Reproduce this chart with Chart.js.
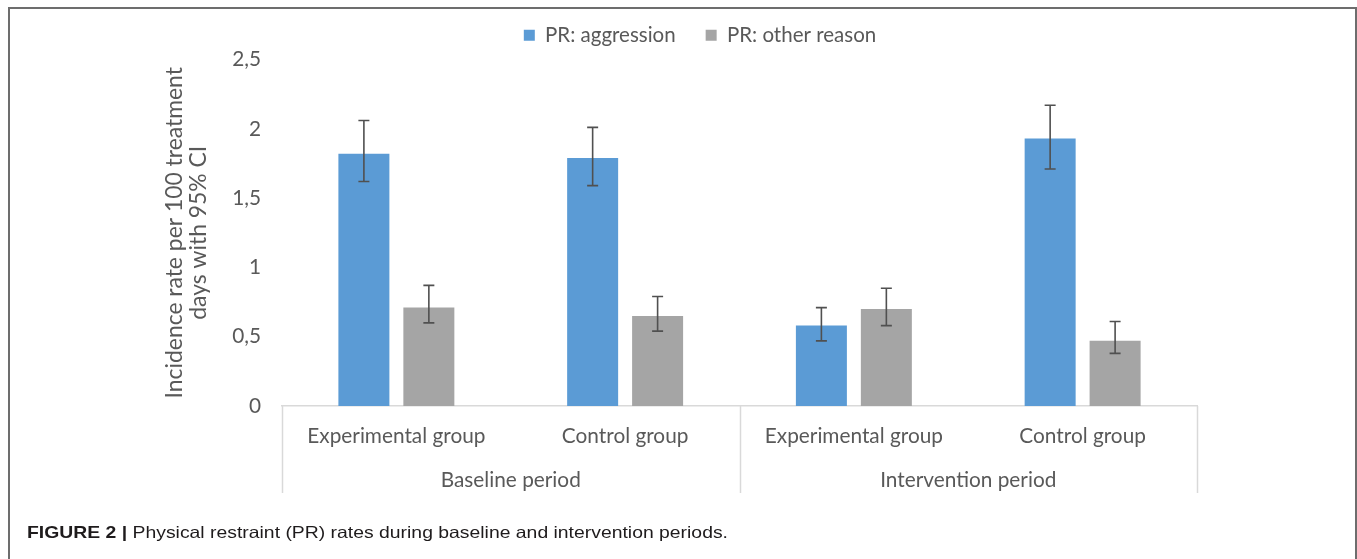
<!DOCTYPE html>
<html>
<head>
<meta charset="utf-8">
<script src="https://cdn.jsdelivr.net/npm/chart.js@4.4.1/dist/chart.umd.min.js"></script>
<style>
  html, body { margin: 0; padding: 0; background: #ffffff; }
  #wrap { position: relative; width: 1357px; height: 559px; overflow: hidden; background: #ffffff; }
  #frame { position: absolute; left: 8px; top: 7px; width: 1349px; height: 620px; border: 2px solid #6d6d6d; box-sizing: border-box; }
  #chartBox { position: absolute; left: 0; top: 0; width: 1357px; height: 559px; }
  #caption { position: absolute; left: 27px; top: 524px; font-family: "Liberation Sans", Arial, sans-serif; font-size: 16.5px; line-height: 16.5px; color: #1e1b1c; white-space: nowrap; transform-origin: 0 0; }
  #caption b { font-weight: bold; }
</style>
</head>
<body>
<div id="wrap">
  <div id="frame"></div>
  <div id="chartBox"><canvas id="chart"></canvas></div>
  <div id="caption"><b>FIGURE 2 |</b> Physical restraint (PR) rates during baseline and intervention periods.</div>
</div>
<script>
// Incidence rates per 100 treatment days, with 95% confidence limits
const categories = ['Experimental group', 'Control group', 'Experimental group', 'Control group'];
const periods = ['Baseline period', 'Intervention period'];
const seriesNames = ['PR: aggression', 'PR: other reason'];

const aggression      = [1.82, 1.79, 0.58, 1.93];
const aggressionLower = [1.62, 1.59, 0.47, 1.71];
const aggressionUpper = [2.06, 2.01, 0.71, 2.17];

const otherReason      = [0.71, 0.65, 0.70, 0.47];
const otherReasonLower = [0.60, 0.54, 0.58, 0.38];
const otherReasonUpper = [0.87, 0.79, 0.85, 0.61];

const yTickValues = [0, 0.5, 1, 1.5, 2, 2.5];
const yTitle = ['Incidence rate per 100 treatment', 'days with 95% CI'];

// Font sizing: pick sizes of a humanist face so labels keep the intended widths
const FAMILY = 'Lato, "Open Sans", sans-serif';
const measureCtx = document.createElement('canvas').getContext('2d');
function fitSize(text, target, weight) {
  measureCtx.font = (weight || 'normal') + ' 100px ' + FAMILY;
  return Math.round(1000 * target / measureCtx.measureText(text).width) / 10;
}
const tickSize   = fitSize('Experimental group', 178);
const periodSize = fitSize('Intervention period', 176);
const legendSize = fitSize('PR: other reason', 149);
const titleSize  = fitSize('Incidence rate per 100 treatment', 332);
const TEXT = '#595959';

const PAD_LEFT = 163, PAD_RIGHT = 160, PAD_TOP = -5, PAD_BOTTOM = 66;
const PLOT_LEFT = 282;
const LEGEND_GAP = 30;      // space between legend entries
const LEGEND_EXTRA = 4;     // extra room under the legend row
const LEGEND_SHIFT = 20;    // horizontal offset of the legend row

// Confidence-interval whiskers on every bar
const errorBars = {
  id: 'errorBars',
  afterDatasetsDraw(chart) {
    const { ctx } = chart;
    const y = chart.scales.y;
    ctx.save();
    ctx.strokeStyle = '#505050';
    ctx.lineWidth = 1.6;
    chart.data.datasets.forEach((ds, i) => {
      const meta = chart.getDatasetMeta(i);
      meta.data.forEach((bar, j) => {
        const x = bar.x;
        const yl = y.getPixelForValue(ds.lower[j]);
        const yu = y.getPixelForValue(ds.upper[j]);
        ctx.beginPath();
        ctx.moveTo(x, yl); ctx.lineTo(x, yu);
        ctx.moveTo(x - 5.5, yl); ctx.lineTo(x + 5.5, yl);
        ctx.moveTo(x - 5.5, yu); ctx.lineTo(x + 5.5, yu);
        ctx.stroke();
      });
    });
    ctx.restore();
  }
};

// Vertical dividers framing each period on the two-level category axis
const periodDividers = {
  id: 'periodDividers',
  afterDraw(chart) {
    const { ctx } = chart;
    const x = chart.scales.x, x2 = chart.scales.x2;
    const n = periods.length;
    ctx.save();
    ctx.strokeStyle = '#d9d9d9';
    ctx.lineWidth = 1.5;
    for (let i = 0; i <= n; i++) {
      const px = Math.round(x2.left + i * x2.width / n) + 0.5;
      ctx.beginPath();
      ctx.moveTo(px, x.top);
      ctx.lineTo(px, x2.bottom);
      ctx.stroke();
    }
    ctx.restore();
  }
};

// Legend row: a little more room below it, and centred on the figure
const legendPlacement = {
  id: 'legendPlacement',
  beforeLayout(chart) {
    const lg = chart.legend;
    if (!lg || lg._roomAdded) return;
    const fit = lg.fit;
    lg.fit = function () {
      fit.call(this);
      this.height += LEGEND_EXTRA;
    };
    lg._roomAdded = true;
  },
  afterLayout(chart) {
    const lg = chart.legend;
    if (!lg) return;
    lg.left += LEGEND_SHIFT;
    lg.right += LEGEND_SHIFT;
  }
};

new Chart(document.getElementById('chart'), {
  type: 'bar',
  data: {
    labels: categories,
    datasets: [
      {
        label: seriesNames[0],
        data: aggression,
        lower: aggressionLower,
        upper: aggressionUpper,
        backgroundColor: '#5b9bd5',
        borderWidth: 0
      },
      {
        label: seriesNames[1],
        data: otherReason,
        lower: otherReasonLower,
        upper: otherReasonUpper,
        backgroundColor: '#a5a5a5',
        borderWidth: 0
      }
    ]
  },
  options: {
    responsive: true,
    maintainAspectRatio: false,
    animation: false,
    categoryPercentage: 0.568,
    barPercentage: 0.785,
    layout: { padding: { left: PAD_LEFT, right: PAD_RIGHT, top: PAD_TOP, bottom: PAD_BOTTOM } },
    plugins: {
      tooltip: { enabled: false },
      legend: {
        position: 'top',
        align: 'center',
        labels: {
          boxWidth: 11,
          boxHeight: 11,
          padding: LEGEND_GAP,
          color: TEXT,
          font: { family: FAMILY, size: legendSize }
        }
      }
    },
    scales: {
      x: {
        type: 'category',
        position: 'bottom',
        weight: 0,
        offset: true,
        grid: { display: false, drawTicks: false },
        border: { display: true, color: '#d9d9d9', width: 1.5 },
        ticks: {
          color: TEXT,
          padding: 18,
          maxRotation: 0,
          autoSkip: false,
          font: { family: FAMILY, size: tickSize }
        },
        afterFit(scale) { scale.height = 50; }
      },
      x2: {
        type: 'category',
        position: 'bottom',
        weight: 1,
        labels: periods,
        offset: true,
        grid: { display: false, drawTicks: false },
        border: { display: false },
        ticks: {
          color: TEXT,
          padding: 12,
          maxRotation: 0,
          autoSkip: false,
          font: { family: FAMILY, size: periodSize }
        },
        afterFit(scale) { scale.height = 37; }
      },
      y: {
        min: 0,
        max: 2.5,
        grid: { display: false, drawTicks: false },
        border: { display: false },
        afterBuildTicks(scale) {
          scale.ticks = yTickValues.map(v => ({ value: v }));
        },
        ticks: {
          color: TEXT,
          padding: 21,
          font: { family: FAMILY, size: tickSize },
          callback: v => String(v).replace('.', ',')
        },
        title: {
          display: true,
          text: yTitle,
          color: TEXT,
          padding: 0,
          font: { family: FAMILY, size: titleSize, lineHeight: 24 / titleSize }
        },
        afterFit(scale) { scale.width = PLOT_LEFT - PAD_LEFT; }
      }
    }
  },
  plugins: [errorBars, periodDividers, legendPlacement]
});

// Caption: set the sans face to the typeset line length
(function () {
  const cap = document.getElementById('caption');
  const w = cap.getBoundingClientRect().width;
  cap.style.transform = 'scaleX(' + (701 / w) + ')';
})();
</script>
</body>
</html>
